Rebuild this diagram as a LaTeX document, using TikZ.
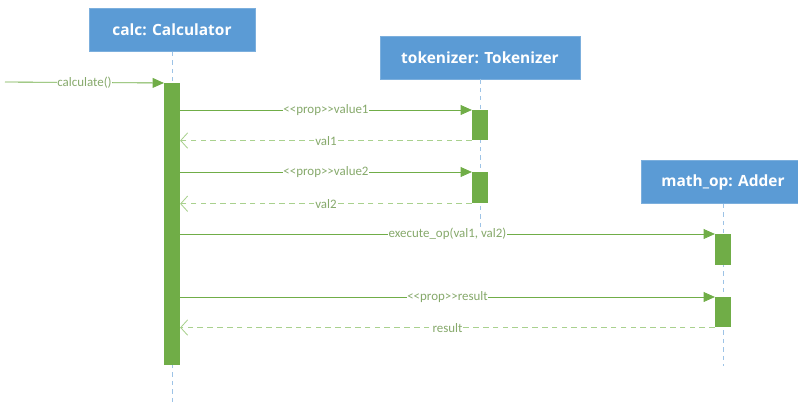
\documentclass[tikz,border=0pt]{standalone}
\usepackage{fontspec}
\setmainfont{Open Sans}
\newfontfamily\msgfont{Carlito}
\usetikzlibrary{positioning, arrows.meta, calc}

\definecolor{headblue}{HTML}{5B9BD5}
\definecolor{lifeblue}{HTML}{9DC3E6}
\definecolor{actgreen}{HTML}{70AD47}
\definecolor{retgreen}{HTML}{A9D18E}
\definecolor{labgreen}{HTML}{86A96B}

\begin{document}
\begin{tikzpicture}[x=0.025cm, y=-0.025cm,
    head/.style={fill=headblue, draw=headblue!80, text=white,
        font=\bfseries\fontsize{11}{13}\selectfont,
        minimum height=1.08cm, inner sep=0},
    act/.style={fill=actgreen, draw=none, minimum width=0.39cm,
        inner sep=0, anchor=north},
    life/.style={draw=lifeblue, dashed, line width=0.7pt},
    call/.style={draw=actgreen, line width=0.6pt,
        -{Triangle[length=8pt, width=7pt]}},
    ret/.style={draw=retgreen, line width=0.7pt, dash pattern=on 4pt off 3pt,
        -{Straight Barb[length=5pt, width=11pt, line width=0.6pt]}},
    msg/.style={midway, fill=white, inner sep=0.5pt, text=labgreen,
        font=\msgfont\fontsize{9.2}{10}\selectfont}]

    \useasboundingbox (0,0) rectangle (798,406);

    % heads
    \node [head, minimum width=4.15cm] (calc) at (172,30) {calc: Calculator};
    \node [head, minimum width=5cm] (tok) at (480,57.5) {tokenizer: Tokenizer};
    \node [head, minimum width=4.1cm] (adder) at (723,182) {math\_op: Adder};

    % lifelines
    \coordinate (calcend) at (172,406);
    \coordinate (tokend) at (480,228);
    \coordinate (adderend) at (723,366);
    \draw [life] (calc.south) -- (calcend);
    \draw [life] (tok.south) -- (tokend);
    \draw [life] (adder.south) -- (adderend);

    % activations
    \node [act, minimum height=7.05cm] (calcact) at (172,83) {};
    \node [act, minimum height=0.75cm] (tokact1) at (480,110) {};
    \node [act, minimum height=0.78cm] (tokact2) at (480,172) {};
    \node [act, minimum height=0.78cm] (addact1) at (723,234) {};
    \node [act, minimum height=0.75cm] (addact2) at (723,297) {};

    % messages
    \coordinate (start) at (5,82);
    \draw [call] (start) -- (calcact.north west)
        node [msg, pos=0.5] {calculate()};
    \draw [call] (calcact.east |- tokact1.north west) -- (tokact1.north west)
        node [msg] {<<prop>>value1};
    \draw [ret] (tokact1.south west) -- (calcact.east |- tokact1.south west)
        node [msg] {val1};
    \draw [call] (calcact.east |- tokact2.north west) -- (tokact2.north west)
        node [msg] {<<prop>>value2};
    \draw [ret] (tokact2.south west) -- (calcact.east |- tokact2.south west)
        node [msg] {val2};
    \draw [call] (calcact.east |- addact1.north west) -- (addact1.north west)
        node [msg] {execute\_op(val1, val2)};
    \draw [call] (calcact.east |- addact2.north west) -- (addact2.north west)
        node [msg] {<<prop>>result};
    \draw [ret] (addact2.south west) -- (calcact.east |- addact2.south west)
        node [msg] {result};
\end{tikzpicture}
\end{document}
